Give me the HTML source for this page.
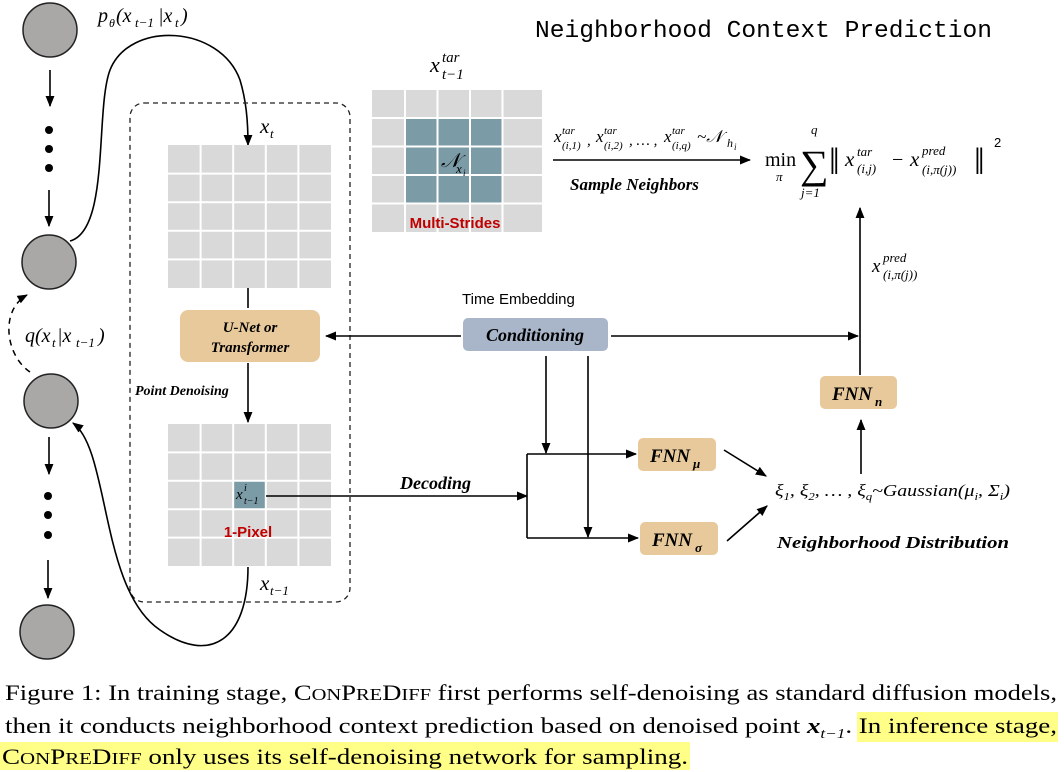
<!DOCTYPE html>
<html><head><meta charset="utf-8"><style>
html,body{margin:0;padding:0;background:#fff;}
svg{display:block;}
.m{font-family:"Liberation Serif",serif;font-style:italic;}
.r{font-family:"Liberation Serif",serif;}
.b{font-family:"Liberation Serif",serif;font-style:italic;font-weight:bold;}
</style></head><body>
<svg width="1064" height="772" viewBox="0 0 1064 772" xmlns="http://www.w3.org/2000/svg">
<defs>
<marker id="a" viewBox="0 0 10 10" refX="9" refY="5" markerWidth="7" markerHeight="7" orient="auto-start-reverse"><path d="M0,1 L10,5 L0,9 z" fill="#000"/></marker>
</defs>
<g fill="#aaa7a7" stroke="#222" stroke-width="1.5">
<circle cx="50" cy="30" r="27"/><circle cx="49" cy="262" r="27"/><circle cx="51" cy="401" r="27"/><circle cx="47" cy="632" r="27"/>
</g>
<g stroke="#000" stroke-width="1.6" fill="none" marker-end="url(#a)">
<line x1="50" y1="70" x2="50" y2="106"/><line x1="49" y1="190" x2="49" y2="226"/>
<line x1="49" y1="437" x2="49" y2="474"/><line x1="48" y1="560" x2="48" y2="598"/>
</g>
<g fill="#000"><circle cx="49" cy="130" r="4"/><circle cx="49" cy="149" r="4"/><circle cx="49" cy="168" r="4"/>
<circle cx="48" cy="496" r="4"/><circle cx="48" cy="515" r="4"/><circle cx="48" cy="535" r="4"/></g>
<path d="M30,372 C5,355 0,310 27,295" stroke="#000" stroke-width="1.5" stroke-dasharray="6,5" fill="none" marker-end="url(#a)"/>
<g class="m">
<text x="25" y="342" font-size="20">q(x</text><text x="52" y="347" font-size="13">t</text>
<text x="57" y="342" font-size="20">|x</text><text x="76" y="347" font-size="13">t−1</text><text x="98" y="342" font-size="20">)</text>
</g>
<path d="M70,241 C110,230 95,110 110,70 C130,20 220,25 240,80 C246,100 248,120 248,145" stroke="#000" stroke-width="1.6" fill="none" marker-end="url(#a)"/>
<g class="m">
<text x="98" y="22" font-size="20">p</text><text x="109" y="27" font-size="12">θ</text>
<text x="116" y="22" font-size="20">(x</text><text x="135" y="27" font-size="13">t−1</text>
<text x="158" y="22" font-size="20">|x</text><text x="175" y="27" font-size="13">t</text><text x="181" y="22" font-size="20">)</text>
</g>
<rect x="130" y="103" width="220" height="499" rx="14" fill="none" stroke="#222" stroke-width="1.3" stroke-dasharray="5,4"/>
<text x="260" y="133" class="m" font-size="21">x</text><text x="270" y="138" class="m" font-size="13">t</text>
<rect x="168" y="145" width="163" height="143" fill="#d9d9d9"/>
<g stroke="#fff" stroke-width="2">
<line x1="200.6" y1="145" x2="200.6" y2="288"/><line x1="233.2" y1="145" x2="233.2" y2="288"/><line x1="265.8" y1="145" x2="265.8" y2="288"/><line x1="298.4" y1="145" x2="298.4" y2="288"/>
<line x1="168" y1="173.6" x2="331" y2="173.6"/><line x1="168" y1="202.2" x2="331" y2="202.2"/><line x1="168" y1="230.8" x2="331" y2="230.8"/><line x1="168" y1="259.4" x2="331" y2="259.4"/>
</g>
<line x1="248" y1="288" x2="248" y2="308" stroke="#000" stroke-width="1.6"/>
<rect x="180" y="310" width="140" height="52" rx="8" fill="#e8c99b"/>
<text x="250" y="332" class="b" font-size="15" text-anchor="middle">U-Net or</text>
<text x="250" y="352" class="b" font-size="15" text-anchor="middle">Transformer</text>
<line x1="248" y1="363" x2="248" y2="422" stroke="#000" stroke-width="1.6" marker-end="url(#a)"/>
<text x="135" y="395" class="b" font-size="14">Point Denoising</text>
<rect x="168" y="424" width="163" height="142" fill="#d9d9d9"/>
<rect x="233" y="481" width="32" height="28" fill="#7b9ba6"/>
<g stroke="#fff" stroke-width="2">
<line x1="200.6" y1="424" x2="200.6" y2="566"/><line x1="233.2" y1="424" x2="233.2" y2="566"/><line x1="265.8" y1="424" x2="265.8" y2="566"/><line x1="298.4" y1="424" x2="298.4" y2="566"/>
<line x1="168" y1="452.4" x2="331" y2="452.4"/><line x1="168" y1="480.8" x2="331" y2="480.8"/><line x1="168" y1="509.2" x2="331" y2="509.2"/><line x1="168" y1="537.6" x2="331" y2="537.6"/>
</g>
<g class="m"><text x="236" y="499" font-size="15">x</text><text x="244" y="491" font-size="10">i</text><text x="244" y="504" font-size="10">t−1</text></g>
<text x="248" y="537" font-family="Liberation Sans,sans-serif" font-weight="bold" font-size="15" fill="#c00000" text-anchor="middle">1-Pixel</text>
<line x1="266" y1="496" x2="527" y2="496" stroke="#000" stroke-width="1.6" marker-end="url(#a)"/>
<text x="400" y="489" class="b" font-size="18">Decoding</text>
<text x="260" y="590" class="m" font-size="21">x</text><text x="270" y="595" class="m" font-size="13">t−1</text>
<path d="M248,567 C248,640 210,665 160,630 C100,590 110,450 73,423" stroke="#000" stroke-width="1.6" fill="none" marker-end="url(#a)"/>
<g class="m"><text x="430" y="72" font-size="22">x</text><text x="442" y="62" font-size="15">tar</text><text x="442" y="79" font-size="15">t−1</text></g>
<rect x="372" y="90" width="170" height="142" fill="#d9d9d9"/>
<rect x="405" y="118" width="97" height="85" fill="#7b9ba6"/>
<g stroke="#fff" stroke-width="2">
<line x1="405" y1="90" x2="405" y2="232"/><line x1="437.5" y1="90" x2="437.5" y2="232"/><line x1="470" y1="90" x2="470" y2="232"/><line x1="502.5" y1="90" x2="502.5" y2="232"/>
<line x1="372" y1="118" x2="542" y2="118"/><line x1="372" y1="146.5" x2="542" y2="146.5"/><line x1="372" y1="175" x2="542" y2="175"/><line x1="372" y1="203.5" x2="542" y2="203.5"/>
</g>
<g class="m"><text x="441" y="167" font-size="20">𝒩</text><text x="456" y="173" font-size="13">x</text><text x="463" y="176" font-size="9">i</text></g>
<text x="455" y="228" font-family="Liberation Sans,sans-serif" font-weight="bold" font-size="15" fill="#c00000" text-anchor="middle">Multi-Strides</text>
<text x="535" y="37" font-family="Liberation Mono,monospace" font-size="24" textLength="457" lengthAdjust="spacingAndGlyphs">Neighborhood Context Prediction</text>
<line x1="553" y1="160" x2="750" y2="160" stroke="#000" stroke-width="1.6" marker-end="url(#a)"/>
<g class="m">
<text x="554" y="142" font-size="17">x</text><text x="562" y="134" font-size="11">tar</text><text x="562" y="149" font-size="11">(i,1)</text><text x="587" y="145" font-size="15">,</text>
<text x="596" y="142" font-size="17">x</text><text x="604" y="134" font-size="11">tar</text><text x="604" y="149" font-size="11">(i,2)</text><text x="629" y="145" font-size="15">, … ,</text>
<text x="664" y="142" font-size="17">x</text><text x="672" y="134" font-size="11">tar</text><text x="672" y="149" font-size="11">(i,q)</text>
<text x="697" y="142" font-size="17">~𝒩</text><text x="727" y="147" font-size="12">h</text><text x="734" y="150" font-size="9">i</text>
</g>
<text x="570" y="190" class="b" font-size="17">Sample Neighbors</text>
<text x="765" y="166" class="r" font-size="20">min</text>
<text x="776" y="181" class="m" font-size="13">π</text>
<text x="800" y="178" class="r" font-size="40">∑</text>
<text x="811" y="134" class="m" font-size="13">q</text>
<text x="801" y="197" class="m" font-size="13">j=1</text>
<text x="829" y="174" class="r" font-size="38">‖</text>
<text x="845" y="166" class="m" font-size="21">x</text><text x="857" y="156" class="m" font-size="13">tar</text><text x="857" y="173" class="m" font-size="13">(i,j)</text>
<text x="892" y="166" class="r" font-size="20">−</text>
<text x="910" y="166" class="m" font-size="21">x</text><text x="922" y="155" class="m" font-size="13">pred</text><text x="922" y="174" class="m" font-size="13">(i,π(j))</text>
<text x="974" y="174" class="r" font-size="38">‖</text>
<text x="994" y="147" font-family="Liberation Sans,sans-serif" font-size="13">2</text>
<line x1="860" y1="375" x2="860" y2="208" stroke="#000" stroke-width="1.6" marker-end="url(#a)"/>
<g class="m"><text x="872" y="272" font-size="19">x</text><text x="883" y="262" font-size="13">pred</text><text x="883" y="279" font-size="13">(i,π(j))</text></g>
<text x="462" y="304" font-family="Liberation Sans,sans-serif" font-size="15">Time Embedding</text>
<rect x="463" y="318" width="145" height="33" rx="5" fill="#a9b6c9"/>
<text x="535" y="341" class="b" font-size="18" text-anchor="middle">Conditioning</text>
<line x1="611" y1="336" x2="858" y2="336" stroke="#000" stroke-width="1.6" marker-end="url(#a)"/>
<line x1="461" y1="336" x2="326" y2="336" stroke="#000" stroke-width="1.6" marker-end="url(#a)"/>
<line x1="546" y1="356" x2="546" y2="453" stroke="#000" stroke-width="1.6" marker-end="url(#a)"/>
<line x1="588" y1="356" x2="588" y2="537" stroke="#000" stroke-width="1.6" marker-end="url(#a)"/>
<line x1="527" y1="454" x2="527" y2="538" stroke="#000" stroke-width="1.6"/>
<line x1="527" y1="454" x2="636" y2="454" stroke="#000" stroke-width="1.6" marker-end="url(#a)"/>
<line x1="527" y1="538" x2="638" y2="538" stroke="#000" stroke-width="1.6" marker-end="url(#a)"/>
<rect x="638" y="438" width="78" height="33" rx="5" fill="#e8c99b"/>
<text x="650" y="462" class="b" font-size="19">FNN</text><text x="693" y="468" class="b" font-size="13">μ</text>
<rect x="640" y="522" width="78" height="33" rx="5" fill="#e8c99b"/>
<text x="652" y="546" class="b" font-size="19">FNN</text><text x="695" y="552" class="b" font-size="13">σ</text>
<line x1="724" y1="450" x2="766" y2="476" stroke="#000" stroke-width="1.6" marker-end="url(#a)"/>
<line x1="727" y1="541" x2="767" y2="506" stroke="#000" stroke-width="1.6" marker-end="url(#a)"/>
<text x="775" y="496" class="m" font-size="17" textLength="235" lengthAdjust="spacingAndGlyphs">ξ<tspan font-size="11" dy="4">1</tspan><tspan dy="-4">, ξ</tspan><tspan font-size="11" dy="4">2</tspan><tspan dy="-4">, … , ξ</tspan><tspan font-size="11" dy="4">q</tspan><tspan dy="-4">~Gaussian(μ</tspan><tspan font-size="11" dy="4">i</tspan><tspan dy="-4">, Σ</tspan><tspan font-size="11" dy="4">i</tspan><tspan dy="-4">)</tspan></text>
<text x="777" y="548" class="b" font-size="17" textLength="232" lengthAdjust="spacingAndGlyphs">Neighborhood Distribution</text>
<rect x="820" y="376" width="77" height="33" rx="5" fill="#e8c99b"/>
<text x="832" y="400" class="b" font-size="19">FNN</text><text x="875" y="406" class="b" font-size="13">n</text>
<line x1="861" y1="474" x2="861" y2="420" stroke="#000" stroke-width="1.6" marker-end="url(#a)"/>
<rect x="857" y="712" width="201" height="30" fill="#ffff88"/>
<rect x="0" y="742" width="690" height="28" fill="#ffff88"/>
<g font-family="Liberation Serif,serif" font-size="22">
<text x="5" y="700" textLength="1052" lengthAdjust="spacingAndGlyphs">Figure 1: In training stage, C<tspan font-size="17">ON</tspan>P<tspan font-size="17">RE</tspan>D<tspan font-size="17">IFF</tspan> first performs self-denoising as standard diffusion models,</text>
<text x="5" y="733" textLength="1052" lengthAdjust="spacingAndGlyphs">then it conducts neighborhood context prediction based on denoised point <tspan font-style="italic" font-weight="bold">x</tspan><tspan font-size="14" font-style="italic" dy="5">t−1</tspan><tspan dy="-5">. In inference stage,</tspan></text>
<text x="2" y="764" textLength="686" lengthAdjust="spacingAndGlyphs">C<tspan font-size="17">ON</tspan>P<tspan font-size="17">RE</tspan>D<tspan font-size="17">IFF</tspan> only uses its self-denoising network for sampling.</text>
</g>
</svg>
</body></html>
